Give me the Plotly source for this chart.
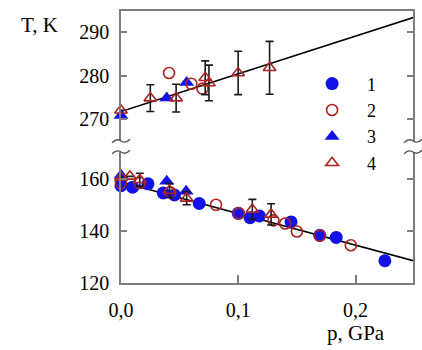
import plotly.graph_objects as go

# ---------------- data ----------------
# series 1: filled blue circles (low-T branch)
p1 = [0.0, 0.0099, 0.023, 0.036, 0.0456, 0.0667, 0.100, 0.110, 0.118, 0.145, 0.1695, 0.1835, 0.225]
T1 = [157.6, 157.0, 158.3, 154.8, 154.0, 150.7, 146.9, 145.2, 145.9, 143.6, 138.4, 137.6, 128.6]

# series 2: open red circles
p2_hi = [0.041, 0.060, 0.0695]
T2_hi = [280.6, 278.1, 277.0]
p2_lo = [0.0, 0.016, 0.042, 0.081, 0.1005, 0.130, 0.140, 0.150, 0.1695, 0.196]
T2_lo = [158.6, 158.6, 155.0, 150.2, 146.9, 144.2, 143.0, 139.9, 138.3, 134.6]

# series 3: filled blue triangles
p3_hi = [0.0, 0.039, 0.056]
T3_hi = [270.8, 274.8, 278.4]
p3_lo = [0.0, 0.039, 0.0555]
T3_lo = [161.6, 159.3, 155.4]

# series 4: open red triangles with error bars
p4_hi = [0.0, 0.025, 0.047, 0.0718, 0.075, 0.0999, 0.1267]
T4_hi = [272.0, 274.8, 274.8, 279.5, 278.3, 280.6, 281.8]
e4_hi = [0.0, 3.1, 3.2, 3.9, 4.1, 5.0, 6.1]
p4_lo = [0.0, 0.0076, 0.016, 0.0414, 0.056, 0.112, 0.128]
T4_lo = [160.8, 161.2, 159.9, 155.7, 152.7, 148.4, 146.5]
e4_lo = [0.0, 0.0, 2.5, 2.7, 2.5, 3.9, 4.1]

# linear fits
fit_p = [0.0, 0.26]
hi_T0, hi_slope = 271.7, 87.0
lo_T0, lo_slope = 159.0, -122.0

legend_names = ["1", "2", "3", "4"]
x_ticks = [0.0, 0.1, 0.2]
x_ticktext = ["0,0", "0,1", "0,2"]
y_lo_ticks = [120, 140, 160]
y_hi_ticks = [270, 280, 290]

# ---------------- style ----------------
BLUE = "#1212e6"
RED = "#ad2323"
AX = "#7d7d7d"
FONT = "Liberation Serif, Tinos, Times New Roman, serif"
FS = 20

fig = go.Figure()

fig.add_trace(go.Scatter(x=fit_p, y=[hi_T0 + hi_slope * p for p in fit_p], mode="lines",
                         line=dict(color="black", width=1.6), xaxis="x2", yaxis="y2",
                         showlegend=False, hoverinfo="skip"))
fig.add_trace(go.Scatter(x=fit_p, y=[lo_T0 + lo_slope * p for p in fit_p], mode="lines",
                         line=dict(color="black", width=1.6), xaxis="x", yaxis="y",
                         showlegend=False, hoverinfo="skip"))

blue_c = dict(symbol="circle", size=13, color=BLUE)
red_c = dict(symbol="circle-open", size=11, color=RED, line=dict(width=1.6))
blue_t = dict(symbol="triangle-up", size=13, color=BLUE)
red_t = dict(symbol="triangle-up-open", size=11, color=RED, line=dict(width=1.6))
err = dict(color="#1a1a1a", thickness=1.6, width=4)

fig.add_trace(go.Scatter(x=p1, y=T1, mode="markers", marker=blue_c, name=legend_names[0],
                         legendrank=1, xaxis="x", yaxis="y", cliponaxis=False))
fig.add_trace(go.Scatter(x=p3_hi, y=T3_hi, mode="markers", marker=blue_t, name=legend_names[2],
                         legendgroup="3", showlegend=False, xaxis="x2", yaxis="y2",
                         cliponaxis=False))
fig.add_trace(go.Scatter(x=p3_lo, y=T3_lo, mode="markers", marker=blue_t, name=legend_names[2],
                         legendgroup="3", legendrank=3, xaxis="x", yaxis="y", cliponaxis=False))
fig.add_trace(go.Scatter(x=p2_hi, y=T2_hi, mode="markers", marker=red_c, name=legend_names[1],
                         legendgroup="2", showlegend=False, xaxis="x2", yaxis="y2",
                         cliponaxis=False))
fig.add_trace(go.Scatter(x=p2_lo, y=T2_lo, mode="markers", marker=red_c, name=legend_names[1],
                         legendgroup="2", legendrank=2, xaxis="x", yaxis="y", cliponaxis=False))
fig.add_trace(go.Scatter(x=p4_hi, y=T4_hi, mode="markers", marker=red_t, name=legend_names[3],
                         error_y=dict(type="data", array=e4_hi, **err),
                         legendgroup="4", showlegend=False, xaxis="x2", yaxis="y2",
                         cliponaxis=False))
fig.add_trace(go.Scatter(x=p4_lo, y=T4_lo, mode="markers", marker=red_t, name=legend_names[3],
                         error_y=dict(type="data", array=e4_lo, **err),
                         legendgroup="4", legendrank=4, xaxis="x", yaxis="y", cliponaxis=False))

# ---------------- layout ----------------
W, H = 422, 350
L, R, T, B = 121, 7, 11, 67
pw, ph = W - L - R, H - T - B


def px_to_paper(xp, yp):
    return (xp - L) / pw, (H - B - yp) / ph


def tilde(cx, cy, w=18, a=3.0):
    pts = [(cx - w / 2, cy + a * 0.6), (cx - w / 4, cy - a), (cx, cy),
           (cx + w / 4, cy + a), (cx + w / 2, cy - a * 0.6)]
    pp = [px_to_paper(x, y) for x, y in pts]
    s = "M {:.4f},{:.4f}".format(*pp[0])
    s += " Q {:.4f},{:.4f} {:.4f},{:.4f}".format(*pp[1], *pp[2])
    s += " T {:.4f},{:.4f}".format(*pp[4])
    return s


shapes = []
for cx in (121, 415):
    for cy in (141, 152):
        shapes.append(dict(type="path", xref="paper", yref="paper", path=tilde(cx, cy),
                           line=dict(color="#555", width=1.4)))

common_axis = dict(showline=True, linecolor=AX, linewidth=1.5, ticks="inside",
                   tickcolor=AX, tickwidth=1.5, showgrid=False, zeroline=False,
                   tickfont=dict(family=FONT, size=FS, color="black"))

fig.update_layout(
    width=W, height=H, margin=dict(l=L, r=R, t=T, b=B),
    paper_bgcolor="white", plot_bgcolor="white",
    xaxis=dict(domain=[0, 1], range=[0, 0.249], anchor="y", tickvals=x_ticks,
               ticktext=x_ticktext, ticklen=8, ticklabelstandoff=8, **common_axis),
    xaxis2=dict(domain=[0, 1], matches="x", anchor="y2", side="top", showticklabels=False,
                **{**common_axis, "ticks": ""}),
    yaxis=dict(domain=[0, 0.4816], range=[120, 170.6], anchor="x", tickvals=y_lo_ticks,
               ticklen=6, mirror="ticks", ticklabelstandoff=6, **common_axis),
    yaxis2=dict(domain=[0.522, 1], range=[264.9, 294.9], anchor="x2", tickvals=y_hi_ticks,
                ticklen=6, mirror="ticks", ticklabelstandoff=6, **common_axis),
    legend=dict(x=0.603, y=0.80, xanchor="left", yanchor="top", itemwidth=60,
                font=dict(family=FONT, size=18, color="black"), bgcolor="rgba(0,0,0,0)",
                tracegroupgap=0),
    showlegend=True,
    shapes=shapes,
    annotations=[
        dict(text="T, K", xref="paper", yref="paper", x=px_to_paper(39, 0)[0],
             y=px_to_paper(0, 25)[1], showarrow=False, xanchor="center", yanchor="middle",
             font=dict(family=FONT, size=FS + 1, color="black")),
        dict(text="p, GPa", xref="paper", yref="paper", x=px_to_paper(358, 0)[0],
             y=px_to_paper(0, 333)[1], showarrow=False, xanchor="center", yanchor="middle",
             font=dict(family=FONT, size=FS + 1, color="black")),
    ],
)

fig.write_html("out.html", config={"displayModeBar": False},
               post_script="document.body.style.margin='0';document.body.style.overflow='hidden';")
